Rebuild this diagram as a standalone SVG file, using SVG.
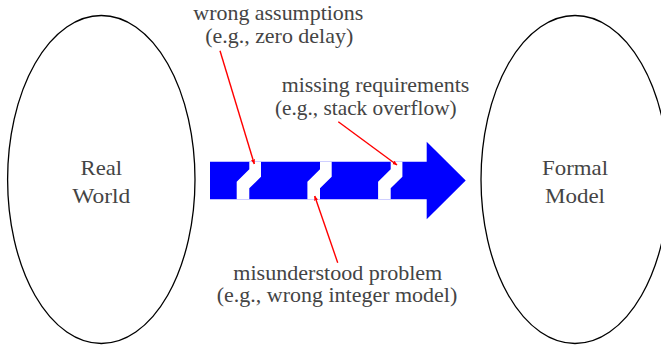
<svg xmlns="http://www.w3.org/2000/svg" width="661" height="345" viewBox="0 0 661 345">
<style>
.lbl{font-family:"Liberation Serif","Tinos","Times New Roman",Times,"Nimbus Roman","Nimbus Roman No9 L","FreeSerif","Noto Serif","DejaVu Serif",Georgia,serif;font-size:21px;fill:#444;text-anchor:middle}
.ell{fill:none;stroke:#000;stroke-width:1.3}
.red{stroke:#f00;stroke-width:1.4;fill:none;marker-end:url(#ah)}
</style>
<defs>
<marker id="ah" viewBox="0 0 10 10" refX="9" refY="5" markerWidth="5" markerHeight="5" orient="auto" markerUnits="userSpaceOnUse">
<path d="M0,1 L10,5 L0,9 Z" fill="#f00"/>
</marker>
<polygon id="gap" points="249.3,161.7 261,161.7 261,176.7 249.3,188.3 249.3,199.3 236.7,199.3 236.7,181.7 249.3,169.3" fill="#fff"/>
</defs>
<rect width="661" height="345" fill="#fff"/>
<g id="real-world">
<ellipse class="ell" cx="101.3" cy="179.5" rx="93.7" ry="164"/>
<text class="lbl" x="101.3" y="175" textLength="41.5" lengthAdjust="spacingAndGlyphs">Real</text>
<text class="lbl" x="101.3" y="202.5" textLength="58" lengthAdjust="spacingAndGlyphs">World</text>
</g>
<g id="formal-model">
<ellipse class="ell" cx="575" cy="179.5" rx="94" ry="164"/>
<text class="lbl" x="575" y="175" textLength="66" lengthAdjust="spacingAndGlyphs">Formal</text>
<text class="lbl" x="575" y="202.5" textLength="60" lengthAdjust="spacingAndGlyphs">Model</text>
</g>
<g id="arrow">
<polygon points="210,161.7 426.7,161.7 426.7,141.7 465.7,180.5 426.7,219.3 426.7,199.3 210,199.3" fill="#00f"/>
<use href="#gap"/>
<use href="#gap" transform="translate(70.7,0)"/>
<use href="#gap" transform="translate(141.4,0)"/>
</g>
<g id="wrong-assumptions">
<text class="lbl" x="278.3" y="20" textLength="170" lengthAdjust="spacingAndGlyphs">wrong assumptions</text>
<text class="lbl" x="279.2" y="43" textLength="148" lengthAdjust="spacingAndGlyphs">(e.g., zero delay)</text>
</g>
<g id="missing-requirements">
<text class="lbl" x="375.5" y="92" textLength="187.6" lengthAdjust="spacingAndGlyphs">missing requirements</text>
<text class="lbl" x="365.8" y="114.5" textLength="181.7" lengthAdjust="spacingAndGlyphs">(e.g., stack overflow)</text>
</g>
<g id="misunderstood-problem">
<text class="lbl" x="337.8" y="279.5" textLength="209" lengthAdjust="spacingAndGlyphs">misunderstood problem</text>
<text class="lbl" x="337" y="302" textLength="240.6" lengthAdjust="spacingAndGlyphs">(e.g., wrong integer model)</text>
</g>
<g id="connectors">
<line class="red" x1="220" y1="50.7" x2="254.3" y2="164"/>
<line class="red" x1="338.3" y1="121.7" x2="397" y2="165"/>
<line class="red" x1="337.7" y1="262.7" x2="314.7" y2="196"/>
</g>
</svg>
